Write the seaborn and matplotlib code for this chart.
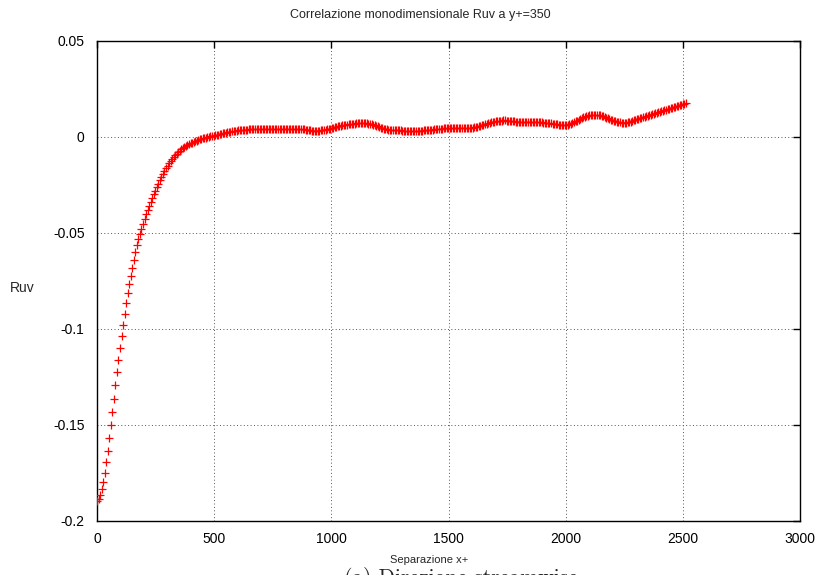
import numpy as np
import pandas as pd
import matplotlib
matplotlib.use("Agg")
import matplotlib.pyplot as plt
from matplotlib import font_manager
import seaborn as sns

# One-dimensional streamwise correlation Ruv at y+ = 350, sampled on a uniform grid
ruv = [
    -0.1895, -0.1884, -0.1864, -0.1834, -0.1795, -0.1748, -0.1694, -0.1634, -0.1569, -0.1501,
    -0.1432, -0.1362, -0.1293, -0.1226, -0.1161, -0.1098, -0.1037, -0.0978, -0.0921, -0.0866,
    -0.0814, -0.0768, -0.0724, -0.0681, -0.0639, -0.0600, -0.0565, -0.0533, -0.0504, -0.0477,
    -0.0451, -0.0426, -0.0402, -0.0380, -0.0359, -0.0339, -0.0319, -0.0299, -0.0280, -0.0261,
    -0.0243, -0.0225, -0.0208, -0.0192, -0.0177, -0.0163, -0.0150, -0.0137, -0.0125, -0.0114,
    -0.0104, -0.0095, -0.0086, -0.0078, -0.0071, -0.0064, -0.0058, -0.0052, -0.0047, -0.0042,
    -0.0037, -0.0033, -0.0029, -0.0025, -0.0022, -0.0019, -0.0016, -0.0013, -0.0010, -0.0007,
    -0.0005, -0.0003, -0.0001, 0.0001, 0.0003, 0.0005, 0.0007, 0.0009, 0.0011, 0.0013,
    0.0015, 0.0017, 0.0019, 0.0021, 0.0022, 0.0024, 0.0026, 0.0027, 0.0029, 0.0030,
    0.0032, 0.0033, 0.0034, 0.0035, 0.0036, 0.0037, 0.0038, 0.0038, 0.0039, 0.0040,
    0.0040, 0.0041, 0.0041, 0.0042, 0.0042, 0.0043, 0.0043, 0.0043, 0.0043, 0.0042,
    0.0042, 0.0042, 0.0042, 0.0041, 0.0041, 0.0041, 0.0041, 0.0040, 0.0040, 0.0040,
    0.0040, 0.0040, 0.0040, 0.0040, 0.0041, 0.0041, 0.0042, 0.0042, 0.0043, 0.0044,
    0.0044, 0.0044, 0.0043, 0.0043, 0.0042, 0.0041, 0.0039, 0.0038, 0.0036, 0.0035,
    0.0033, 0.0032, 0.0032, 0.0032, 0.0032, 0.0033, 0.0034, 0.0035, 0.0037, 0.0039,
    0.0040, 0.0042, 0.0044, 0.0045, 0.0048, 0.0050, 0.0053, 0.0055, 0.0057, 0.0059,
    0.0060, 0.0062, 0.0063, 0.0065, 0.0066, 0.0068, 0.0069, 0.0069, 0.0070, 0.0071,
    0.0071, 0.0071, 0.0072, 0.0072, 0.0072, 0.0072, 0.0072, 0.0070, 0.0069, 0.0067,
    0.0065, 0.0062, 0.0059, 0.0055, 0.0052, 0.0048, 0.0045, 0.0043, 0.0041, 0.0040,
    0.0038, 0.0037, 0.0037, 0.0036, 0.0036, 0.0035, 0.0035, 0.0034, 0.0034, 0.0033,
    0.0033, 0.0032, 0.0032, 0.0032, 0.0031, 0.0031, 0.0031, 0.0031, 0.0031, 0.0032,
    0.0032, 0.0033, 0.0033, 0.0034, 0.0034, 0.0035, 0.0036, 0.0037, 0.0038, 0.0039,
    0.0040, 0.0041, 0.0042, 0.0043, 0.0043, 0.0044, 0.0045, 0.0046, 0.0047, 0.0048,
    0.0048, 0.0048, 0.0049, 0.0049, 0.0049, 0.0049, 0.0049, 0.0049, 0.0048, 0.0048,
    0.0048, 0.0047, 0.0047, 0.0048, 0.0048, 0.0049, 0.0050, 0.0052, 0.0054, 0.0056,
    0.0058, 0.0060, 0.0063, 0.0066, 0.0068, 0.0071, 0.0073, 0.0076, 0.0078, 0.0080,
    0.0081, 0.0083, 0.0084, 0.0085, 0.0085, 0.0086, 0.0086, 0.0085, 0.0085, 0.0084,
    0.0083, 0.0082, 0.0081, 0.0080, 0.0079, 0.0078, 0.0078, 0.0078, 0.0078, 0.0078,
    0.0077, 0.0077, 0.0077, 0.0077, 0.0077, 0.0077, 0.0077, 0.0076, 0.0076, 0.0076,
    0.0076, 0.0075, 0.0075, 0.0074, 0.0073, 0.0072, 0.0071, 0.0070, 0.0069, 0.0068,
    0.0066, 0.0065, 0.0064, 0.0062, 0.0061, 0.0061, 0.0062, 0.0063, 0.0066, 0.0070,
    0.0074, 0.0078, 0.0081, 0.0085, 0.0090, 0.0094, 0.0098, 0.0102, 0.0105, 0.0108,
    0.0110, 0.0112, 0.0114, 0.0116, 0.0116, 0.0117, 0.0116, 0.0115, 0.0113, 0.0111,
    0.0108, 0.0105, 0.0101, 0.0098, 0.0094, 0.0091, 0.0088, 0.0085, 0.0082, 0.0080,
    0.0078, 0.0076, 0.0075, 0.0074, 0.0074, 0.0075, 0.0076, 0.0078, 0.0080, 0.0083,
    0.0086, 0.0089, 0.0092, 0.0095, 0.0098, 0.0101, 0.0104, 0.0106, 0.0109, 0.0111,
    0.0114, 0.0116, 0.0119, 0.0121, 0.0124, 0.0126, 0.0129, 0.0131, 0.0134, 0.0136,
    0.0139, 0.0141, 0.0144, 0.0146, 0.0149, 0.0152, 0.0154, 0.0157, 0.0160, 0.0162,
    0.0165, 0.0168, 0.0170, 0.0173, 0.0175,
]
# Separation x+ runs from 0 to half the periodic box length
x_max = 2513.3
separation = np.linspace(0.0, x_max, len(ruv))

x_ticks = [0, 500, 1000, 1500, 2000, 2500, 3000]
x_tick_labels = ["0", "500", "1000", "1500", "2000", "2500", "3000"]
y_ticks = [-0.2, -0.15, -0.1, -0.05, 0.0, 0.05]
y_tick_labels = ["-0.2", "-0.15", "-0.1", "-0.05", "0", "0.05"]

title = "Correlazione monodimensionale Ruv a y+=350"
x_label = "Separazione x+"
y_label = "Ruv"
caption = "(a) Direzione streamwise"

sns.set_theme(style="white")
plt.rcParams["font.family"] = ["Liberation Sans", "DejaVu Sans"]

W, H = 827, 575
fig = plt.figure(figsize=(W / 100, H / 100), dpi=100)
fig.patch.set_facecolor("white")
ax = fig.add_axes([97 / W, 1 - 521 / H, 703 / W, 480 / H])
ax.set_facecolor("white")

df = pd.DataFrame({"separation": separation, "ruv": ruv})
sns.scatterplot(data=df, x="separation", y="ruv", marker="+", color="#ff0000",
                s=28, linewidth=0.9, ax=ax, legend=False, zorder=3)

ax.set_xlim(0, 3000)
ax.set_ylim(-0.2, 0.05)
ax.set_xticks(x_ticks)
ax.set_xticklabels(x_tick_labels)
ax.set_yticks(y_ticks)
ax.set_yticklabels(y_tick_labels)
ax.set_xlabel("")
ax.set_ylabel("")

ax.grid(True, color="#555555", linestyle=(0, (1, 2.5)), linewidth=0.7)
ax.set_axisbelow(True)
for sp in ax.spines.values():
    sp.set_color("black")
    sp.set_linewidth(1.0)
    sp.set_visible(True)
ax.tick_params(direction="in", length=5, width=1.0, top=True, right=True,
               labelsize=10, colors="black")
ax.tick_params(axis="y", pad=9)
ax.tick_params(axis="x", pad=8)

# Title and axis caption use a narrow sans face when one is available
try:
    font_manager.findfont(font_manager.FontProperties(family="Liberation Sans Narrow"),
                          fallback_to_default=False)
    narrow = ["Liberation Sans Narrow"]
    title_size, label_size = 11, 10
except ValueError:
    narrow = ["Liberation Sans", "DejaVu Sans"]
    title_size, label_size = 9, 8

fig.text(420 / W, 1 - 15 / H, title, ha="center", va="center",
         fontsize=title_size, family=narrow)
fig.text(429 / W, 1 - 560 / H, x_label, ha="center", va="center",
         fontsize=label_size, family=narrow)
fig.text(22 / W, 1 - 288 / H, y_label, ha="center", va="center", fontsize=10)
fig.text(461 / W, 1 - 567 / H, caption, ha="center", va="top", fontsize=15.5,
         family=["cmr10", "DejaVu Serif"])

fig.savefig("out.png", dpi=100)
